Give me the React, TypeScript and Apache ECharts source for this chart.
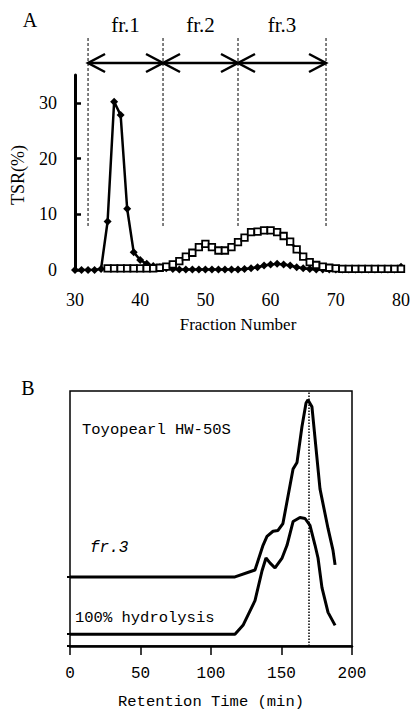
import React, { useEffect, useRef } from "react";
import * as echarts from "echarts";

// ---------- Panel A data ----------
const fractions = [
  30, 31, 32, 33, 34, 35, 36, 37, 38, 39, 40, 41, 42, 43, 44, 45, 46, 47, 48, 49,
  50, 51, 52, 53, 54, 55, 56, 57, 58, 59, 60, 61, 62, 63, 64, 65, 66, 67, 68, 69,
  70, 71, 72, 73, 74, 75, 76, 77, 78, 79, 80,
];
// filled diamonds
const diamondValues = [
  0, 0, 0, 0, 0.2, 8.7, 30.2, 27.8, 11, 3.2, 1.8, 1.1, 0.7, 0.5, 0.3, 0.2, 0.1, 0.1, 0.1, 0.1,
  0.1, 0.1, 0.1, 0.1, 0.1, 0.1, 0.2, 0.3, 0.5, 0.8, 1.0, 1.1, 1.0, 0.8, 0.5, 0.3, 0.2, 0.1, 0.1, 0.1,
  0.1, 0.1, 0.1, 0.1, 0.1, 0.1, 0.1, 0.1, 0.1, 0.1, 0.6,
];
// open squares
const squareValues = [
  null, null, null, null, null, 0.3, 0.3, 0.3, 0.3, 0.3, 0.3, 0.3, 0.3, 0.4, 0.6, 1.0, 1.6, 2.4, 3.1, 4.1,
  4.7, 4.1, 3.5, 3.5, 4.1, 5.0, 5.8, 6.8, 6.9, 7.1, 7.1, 6.8, 6.1, 5.1, 3.7, 2.4, 1.4, 0.9, 0.6, 0.4,
  0.3, 0.2, 0.2, 0.2, 0.2, 0.2, 0.2, 0.2, 0.2, 0.2, 0.2,
];
const fractionBounds = [32, 43.5, 55, 68.5];
const fractionLabels = ["fr.1", "fr.2", "fr.3"];
const tsrTicks = [0, 10, 20, 30];

// ---------- Panel B data ----------
const fr3Time = [0, 117, 131.2, 136.9, 139.7, 144, 147.5, 151, 158.2, 161, 164.5, 167.4, 168.8, 171.6, 177.3, 183, 186.5, 188];
const fr3Signal = [27.1, 27.1, 29.8, 39.5, 43, 45, 45.3, 48, 69.4, 72, 86, 95.3, 96.5, 93.8, 61.6, 46.1, 37.6, 31.8];
const hydTime = [0, 117, 122.7, 131.2, 136.2, 139, 141.8, 145.4, 150.4, 153.9, 158.2, 163.1, 166.7, 170.2, 173.8, 175.9, 178.7, 183, 188];
const hydSignal = [4.65, 4.65, 8.1, 17.8, 29.5, 34.5, 32.6, 30.6, 34.5, 39.5, 48.8, 50.4, 50, 47.3, 39.5, 34.5, 22.9, 13.2, 8.1];
const peakTime = 169;
const baselineTicks = [0, 4.65, 27.1];

const serif = "Liberation Serif";
const mono = "Liberation Mono";

export default function App() {
  const ref = useRef<HTMLDivElement>(null);
  useEffect(() => {
    document.body.style.margin = "0";
    const chart = echarts.init(ref.current!, null, { renderer: "svg" });
    const option: any = {
      animation: false,
      grid: [
        { left: 75, top: 75, width: 327, height: 195 },
        { left: 70, top: 391, width: 282, height: 258, show: true, borderColor: "#000", borderWidth: 1.5 },
      ],
      xAxis: [
        {
          gridIndex: 0, type: "value", min: 30, max: 80, interval: 10,
          axisLine: { show: false }, axisTick: { show: false }, splitLine: { show: false },
          axisLabel: { color: "#000", fontFamily: serif, fontSize: 18, margin: 21 },
          name: "Fraction Number", nameLocation: "middle", nameGap: 46,
          nameTextStyle: { color: "#000", fontFamily: serif, fontSize: 17 },
        },
        {
          gridIndex: 1, type: "value", min: 0, max: 200, interval: 50,
          axisLine: { lineStyle: { color: "#000", width: 2.5 } },
          axisTick: { length: 9, lineStyle: { color: "#000", width: 1.5 } },
          splitLine: { show: false },
          axisLabel: { color: "#000", fontFamily: mono, fontSize: 16, margin: 20 },
          name: "Retention Time (min)", nameLocation: "middle", nameGap: 48,
          nameTextStyle: { color: "#000", fontFamily: mono, fontSize: 15.5 },
        },
      ],
      yAxis: [
        {
          gridIndex: 0, type: "value", min: 0, max: 35,
          axisLine: { show: true, lineStyle: { color: "#000", width: 3 } },
          axisTick: { show: true, inside: true, length: 6, customValues: tsrTicks, lineStyle: { color: "#000", width: 2.5 } },
          axisLabel: { color: "#000", fontFamily: serif, fontSize: 18, margin: 18, customValues: tsrTicks },
          splitLine: { show: false },
        },
        {
          gridIndex: 1, type: "value", min: 0, max: 100,
          axisLine: { show: false },
          axisTick: { show: true, length: 3, customValues: baselineTicks, lineStyle: { color: "#000", width: 2 } },
          axisLabel: { show: false },
          splitLine: { show: false },
        },
      ],
      series: [
        {
          type: "line", xAxisIndex: 0, yAxisIndex: 0,
          data: fractions.map((f, i) => [f, diamondValues[i]]),
          symbol: "diamond", symbolSize: 8,
          lineStyle: { color: "#000", width: 2.5 },
          itemStyle: { color: "#000" },
        },
        {
          type: "line", xAxisIndex: 0, yAxisIndex: 0,
          data: fractions.map((f, i) => [f, squareValues[i]]),
          symbol: "rect", symbolSize: 6.5,
          lineStyle: { color: "#000", width: 2.5 },
          itemStyle: { color: "#fff", borderColor: "#000", borderWidth: 1.8 },
        },
        {
          type: "line", xAxisIndex: 1, yAxisIndex: 1,
          data: fr3Time.map((t, i) => [t, fr3Signal[i]]),
          symbol: "none",
          lineStyle: { color: "#000", width: 3 },
          markLine: {
            silent: true, symbol: "none", label: { show: false },
            lineStyle: { color: "#000", type: "dotted", width: 1.5 },
            data: [{ xAxis: peakTime }],
          },
        },
        {
          type: "line", xAxisIndex: 1, yAxisIndex: 1,
          data: hydTime.map((t, i) => [t, hydSignal[i]]),
          symbol: "none",
          lineStyle: { color: "#000", width: 3 },
        },
      ],
    };
    chart.setOption(option);

    const px = (v: number) => chart.convertToPixel({ xAxisIndex: 0 }, v) as number;
    const arrowY = 63;
    const lineTop = 38;
    const lineBottom = 227;
    const head = 17;
    const spread = 9;
    const g: any[] = [];
    fractionBounds.forEach((b) => {
      const x = px(b);
      g.push({
        type: "line", shape: { x1: x, y1: lineTop, x2: x, y2: lineBottom },
        style: { stroke: "#000", lineWidth: 1, lineDash: [3, 2] },
      });
    });
    fractionLabels.forEach((lab, i) => {
      const x1 = px(fractionBounds[i]);
      const x2 = px(fractionBounds[i + 1]);
      g.push({ type: "line", shape: { x1, y1: arrowY, x2, y2: arrowY }, style: { stroke: "#000", lineWidth: 2.5 } });
      g.push({
        type: "polyline",
        shape: { points: [[x1 + head, arrowY - spread], [x1, arrowY], [x1 + head, arrowY + spread]] },
        style: { stroke: "#000", lineWidth: 2.5, fill: null },
      });
      g.push({
        type: "polyline",
        shape: { points: [[x2 - head, arrowY - spread], [x2, arrowY], [x2 - head, arrowY + spread]] },
        style: { stroke: "#000", lineWidth: 2.5, fill: null },
      });
      g.push({
        type: "text", x: (x1 + x2) / 2, y: 25,
        style: { text: lab, fontFamily: serif, fontSize: 21, fill: "#000", align: "center", verticalAlign: "middle" },
      });
    });
    g.push({
      type: "text", x: 30, y: 20,
      style: { text: "A", fontFamily: serif, fontSize: 20, fill: "#000", align: "center", verticalAlign: "middle" },
    });
    g.push({
      type: "text", x: 18, y: 175, rotation: Math.PI / 2,
      style: { text: "TSR(%)", fontFamily: serif, fontSize: 18, fill: "#000", align: "center", verticalAlign: "middle" },
    });
    g.push({
      type: "text", x: 28, y: 388,
      style: { text: "B", fontFamily: serif, fontSize: 20, fill: "#000", align: "center", verticalAlign: "middle" },
    });
    g.push({
      type: "text", x: 82, y: 430,
      style: { text: "Toyopearl HW-50S", fontFamily: mono, fontSize: 15.5, fill: "#000", align: "left", verticalAlign: "middle" },
    });
    g.push({
      type: "text", x: 90, y: 548,
      style: { text: "fr.3", fontFamily: mono, fontStyle: "italic", fontSize: 16, fill: "#000", align: "left", verticalAlign: "middle" },
    });
    g.push({
      type: "text", x: 75, y: 618,
      style: { text: "100% hydrolysis", fontFamily: mono, fontSize: 15.5, fill: "#000", align: "left", verticalAlign: "middle" },
    });
    chart.setOption({ graphic: g });

    return () => chart.dispose();
  }, []);
  return <div ref={ref} style={{ position: "absolute", left: 0, top: 0, width: 413, height: 711, background: "#fff" }} />;
}
